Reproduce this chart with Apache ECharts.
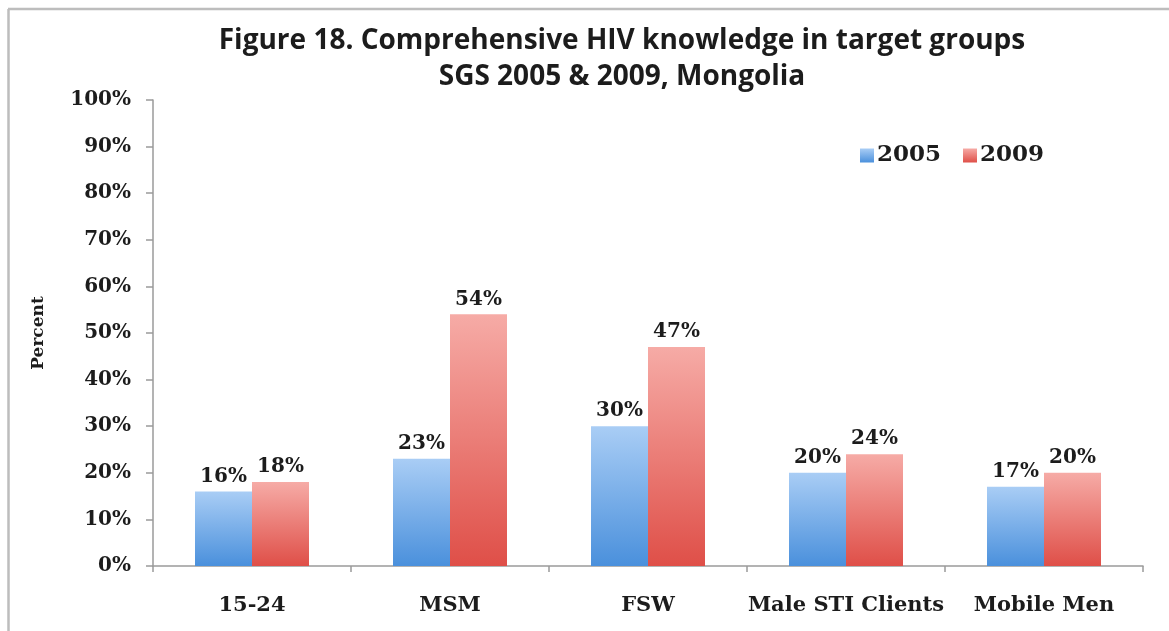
<!DOCTYPE html>
<html>
<head>
<meta charset="utf-8">
<script src="https://cdn.jsdelivr.net/npm/echarts@6/dist/echarts.min.js"></script>
<style>
  html, body { margin: 0; padding: 0; background: #fff; }
  #grafico { width: 1169px; height: 631px; }
</style>
</head>
<body>
<div id="grafico"></div>
<script>
const grupos = ['15-24', 'MSM', 'FSW', 'Male STI Clients', 'Mobile Men']
const anios = ['2005', '2009']
const valores2005 = [16, 23, 30, 20, 17]
const valores2009 = [18, 54, 47, 24, 20]
const marcasEje = [0, 10, 20, 30, 40, 50, 60, 70, 80, 90, 100]

const serif = 'DejaVu Serif'
const tinta = '#1c1c1c'

function degradado(arriba, abajo) {
  return new echarts.graphic.LinearGradient(0, 0, 0, 1, [
    { offset: 0, color: arriba },
    { offset: 1, color: abajo },
  ])
}

const etiqueta = {
  show: true,
  position: 'top',
  distance: 5,
  formatter: (p) => p.value + '%',
  fontFamily: serif,
  fontWeight: 'bold',
  fontSize: 20,
  color: tinta,
}

const grafico = echarts.init(document.getElementById('grafico'))

grafico.setOption({
  animation: false,
  backgroundColor: '#fff',
  title: {
    text: 'Figure 18. Comprehensive HIV knowledge in target groups\nSGS 2005 & 2009, Mongolia',
    left: 617,
    top: 18,
    textAlign: 'center',
    textStyle: {
      fontFamily: 'Open Sans',
      fontWeight: 'bold',
      fontSize: 28,
      lineHeight: 36,
      color: tinta,
    },
  },
  legend: {
    data: anios,
    left: 855,
    top: 139,
    itemWidth: 14,
    itemHeight: 14,
    itemGap: 22,
    icon: 'rect',
    textStyle: {
      fontFamily: serif,
      fontWeight: 'bold',
      fontSize: 23,
      color: tinta,
      padding: [0, 0, 0, -2],
    },
  },
  grid: { left: 153, right: 26, top: 100, bottom: 65, containLabel: false },
  xAxis: {
    type: 'category',
    data: grupos,
    axisLine: { lineStyle: { color: '#9a9a9a', width: 1.5 } },
    axisTick: { show: true, length: 6, lineStyle: { color: '#9a9a9a', width: 1.5 } },
    axisLabel: {
      margin: 29,
      fontFamily: serif,
      fontWeight: 'bold',
      fontSize: 21,
      color: tinta,
      interval: 0,
    },
  },
  yAxis: {
    type: 'value',
    min: 0,
    max: 100,
    interval: 10,
    name: 'Percent',
    nameLocation: 'middle',
    nameRotate: 90,
    nameGap: 106,
    nameTextStyle: { fontFamily: serif, fontWeight: 'bold', fontSize: 17, color: tinta },
    splitLine: { show: false },
    axisLine: { show: true, lineStyle: { color: '#9a9a9a', width: 1.5 } },
    axisTick: { show: true, length: 7, lineStyle: { color: '#9a9a9a', width: 1.5 } },
    axisLabel: {
      margin: 22,
      fontFamily: serif,
      fontWeight: 'bold',
      fontSize: 20,
      color: tinta,
      formatter: (v) => (marcasEje.includes(v) ? v + '%' : ''),
    },
  },
  series: [
    {
      name: anios[0],
      type: 'bar',
      data: valores2005,
      barWidth: 57,
      barGap: '0%',
      itemStyle: { color: degradado('#a9cdf5', '#4a90dc') },
      label: etiqueta,
    },
    {
      name: anios[1],
      type: 'bar',
      data: valores2009,
      barWidth: 57,
      itemStyle: { color: degradado('#f6aba6', '#df4f48') },
      label: etiqueta,
    },
  ],
  graphic: [
    {
      type: 'line',
      shape: { x1: 8.5, y1: 9, x2: 8.5, y2: 631 },
      style: { stroke: '#bdbdbd', lineWidth: 2.5 },
    },
    {
      type: 'line',
      shape: { x1: 8, y1: 9, x2: 1169, y2: 9 },
      style: { stroke: '#bdbdbd', lineWidth: 2.5 },
    },
  ],
})
</script>
</body>
</html>
